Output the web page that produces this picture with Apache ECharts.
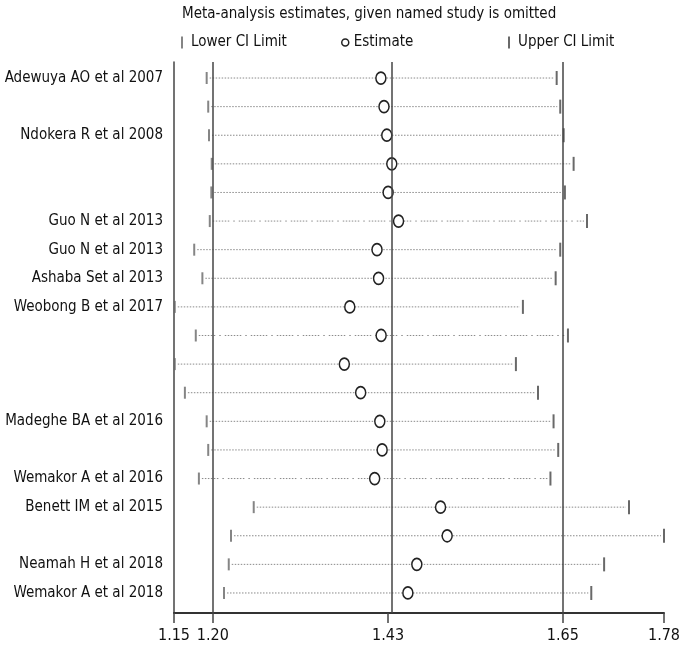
<!DOCTYPE html>
<html>
<head>
<meta charset="utf-8">
<script src="https://cdn.jsdelivr.net/npm/echarts@6/dist/echarts.min.js"></script>
<style>html,body{margin:0;padding:0;background:#fff}#c{width:685px;height:647px}</style>
</head>
<body>
<div id="c"></div>
<script>
var studyLabels = ['Adewuya AO et al 2007', '', 'Ndokera R et al 2008', '', '', 'Guo N et al 2013', 'Guo N et al 2013',
  'Ashaba Set al 2013', 'Weobong B et al 2017', '', '', '', 'Madeghe BA et al 2016', '', 'Wemakor A et al 2016',
  'Benett IM et al 2015', '', 'Neamah H et al 2018', 'Wemakor A et al 2018'];
var lowerCI = [1.192, 1.194, 1.195, 1.1985, 1.198, 1.196, 1.176, 1.1865, 1.151, 1.178, 1.151, 1.164, 1.192, 1.194, 1.182, 1.2525, 1.2233, 1.2204, 1.2143];
var estimate = [1.416, 1.420, 1.4236, 1.430, 1.4253, 1.4387, 1.411, 1.413, 1.376, 1.4163, 1.369, 1.390, 1.4146, 1.4176, 1.408, 1.4927, 1.5012, 1.4622, 1.4507];
var upperCI = [1.642, 1.6466, 1.651, 1.6638, 1.6526, 1.681, 1.6466, 1.6407, 1.5986, 1.6565, 1.5896, 1.618, 1.638, 1.644, 1.634, 1.735, 1.780, 1.703, 1.6865];
var dashDotRows = [5, 9, 14];
var xTicks = [1.15, 1.20, 1.4253, 1.65, 1.78];
var refLines = [1.20, 1.4253, 1.65];

var FONT = "'DejaVu Sans Condensed','Liberation Sans',sans-serif";
var rowIdx = studyLabels.map(function (_, i) { return i; });
var segData = rowIdx.map(function (i) { return [lowerCI[i], i, upperCI[i], dashDotRows.indexOf(i) >= 0 ? 1 : 0]; });
var dotDash = [1.5,1.5,1.5,1.5,1.5,1.5,1.5,1.5,1.5,1.5,1.5,4,1.5,4];

var chart = echarts.init(document.getElementById('c'), null, {renderer: 'canvas'});
chart.setOption({
  animation: false,
  title: {
    text: 'Meta-analysis estimates, given named study is omitted',
    left: 177, top: 2,
    textStyle: {fontFamily: FONT, fontSize: 15, fontWeight: 'normal', color: '#111'}
  },
  legend: [
    {left: 176, top: 30, itemWidth: 2, itemHeight: 12, selectedMode: false,
     textStyle: {fontFamily: FONT, fontSize: 15, color: '#111', padding: [0,0,0,3]},
     data: [{name: 'Lower CI Limit', icon: 'rect', itemStyle: {color: '#666'}}]},
    {left: 336, top: 30, itemWidth: 7, itemHeight: 8, selectedMode: false,
     textStyle: {fontFamily: FONT, fontSize: 15, color: '#111', padding: [0,0,0,0]},
     data: [{name: 'Estimate', icon: 'circle', itemStyle: {color: '#fff', borderColor: '#222', borderWidth: 1.5}}]},
    {left: 503, top: 30, itemWidth: 2, itemHeight: 12, selectedMode: false,
     textStyle: {fontFamily: FONT, fontSize: 15, color: '#111', padding: [0,0,0,3]},
     data: [{name: 'Upper CI Limit', icon: 'rect', itemStyle: {color: '#444'}}]}
  ],
  grid: {left: 174, right: 21, top: 62, bottom: 34, containLabel: false, outerBoundsMode: 'none'},
  xAxis: {
    type: 'value', min: 1.15, max: 1.78, position: 'bottom',
    axisLine: {show: true, onZero: false, lineStyle: {color: '#333', width: 2}},
    axisTick: {show: true, length: 10, customValues: xTicks, lineStyle: {color: '#444', width: 1.5}},
    axisLabel: {customValues: xTicks, margin: 15, fontFamily: FONT, fontSize: 16, color: '#111',
      formatter: function (v) { return v.toFixed(2); }},
    splitLine: {show: false}
  },
  yAxis: {
    type: 'value', inverse: true, min: -0.56, max: 18.7,
    axisLine: {show: true, onZero: false, lineStyle: {color: '#444', width: 1.5}},
    axisTick: {show: false},
    splitLine: {show: false},
    axisLabel: {customValues: rowIdx, margin: 11, fontFamily: FONT, fontSize: 15, color: '#111',
      formatter: function (v) { return studyLabels[Math.round(v)] || ''; }}
  },
  series: [
    {
      type: 'custom', name: 'ci', silent: true,
      data: segData,
      encode: {x: [0, 2], y: 1},
      renderItem: function (params, api) {
        var p1 = api.coord([api.value(0), api.value(1)]);
        var p2 = api.coord([api.value(2), api.value(1)]);
        var dd = api.value(3) ? dotDash : [1.5, 1.5];
        return {
          type: 'line',
          shape: {x1: p1[0] + 3, y1: p1[1], x2: p2[0] - 3, y2: p2[1]},
          style: {stroke: '#8a8a8a', lineWidth: 1, lineDash: dd}
        };
      },
      markLine: {
        silent: true, symbol: 'none', label: {show: false},
        lineStyle: {color: '#444', width: 1.5, type: 'solid'},
        data: refLines.map(function (v) { return {xAxis: v}; })
      }
    },
    {
      type: 'scatter', name: 'Lower CI Limit', symbol: 'rect', symbolSize: [2, 12],
      itemStyle: {color: '#666'},
      data: rowIdx.map(function (i) { return [lowerCI[i], i]; })
    },
    {
      type: 'scatter', name: 'Upper CI Limit', symbol: 'rect', symbolSize: [2, 14],
      itemStyle: {color: '#444'},
      data: rowIdx.map(function (i) { return [upperCI[i], i]; })
    },
    {
      type: 'scatter', name: 'Estimate', symbol: 'circle', symbolSize: [10, 12],
      itemStyle: {color: '#fff', borderColor: '#222', borderWidth: 1.6, opacity: 1},
      data: rowIdx.map(function (i) { return [estimate[i], i]; })
    }
  ]
});
</script>
</body>
</html>
